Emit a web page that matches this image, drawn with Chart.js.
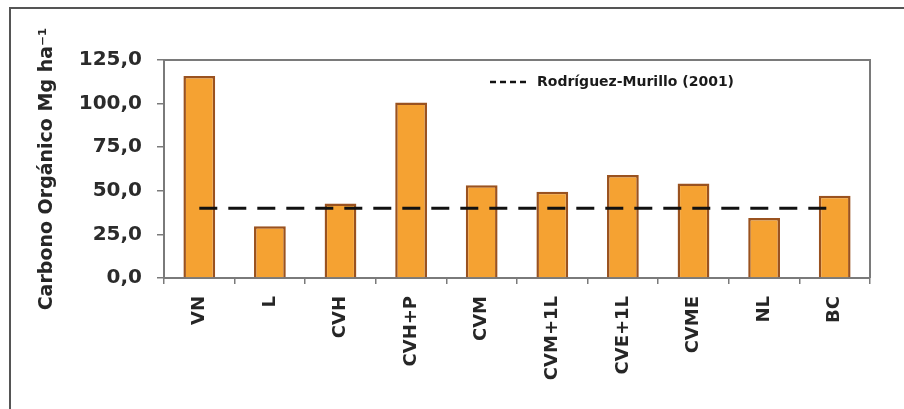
<!DOCTYPE html>
<html>
<head>
<meta charset="utf-8">
<script src="https://cdn.jsdelivr.net/npm/chart.js@4.4.1/dist/chart.umd.min.js"></script>
<style>
  html, body { margin: 0; padding: 0; background: #fff; }
  #wrap { position: relative; width: 904px; height: 409px; }
  #frame {
    position: absolute; left: 9px; top: 7px; right: -2px; bottom: -2px;
    border-left: 2px solid #555; border-top: 2px solid #555;
    pointer-events: none;
  }
</style>
</head>
<body>
<div id="wrap">
  <canvas id="carbonChart" width="904" height="409"></canvas>
  <div id="frame"></div>
</div>
<script>
let categories = ["VN", "L", "CVH", "CVH+P", "CVM", "CVM+1L", "CVE+1L", "CVME", "NL", "BC"];
let carbonValues = [115.8, 29.7, 42.7, 100.7, 53.2, 49.4, 59.0, 54.2, 34.4, 47.1];
let referenceValues = [40, 40, 40, 40, 40, 40, 40, 40, 40, 40];
let referenceLabel = "Rodríguez-Murillo (2001)";
let yTitle = "Carbono Orgánico Mg ha⁻¹";

const fontFamily = "'DejaVu Sans', Verdana, sans-serif";

// box round the plot area + the little legend inside it
const plotExtras = {
  id: 'plotExtras',
  afterDraw(chart) {
    const c = chart.ctx;
    const a = chart.chartArea;
    c.save();
    c.strokeStyle = '#7a7a7a';
    c.lineWidth = 2;
    c.beginPath();
    c.moveTo(a.left, a.top);
    c.lineTo(a.right, a.top);
    c.lineTo(a.right, a.bottom);
    c.stroke();

    // legend
    const ds = chart.data.datasets[1];
    const ly = a.top + 22;
    const lx = a.left + 326;
    c.strokeStyle = '#111';
    c.lineWidth = 2.5;
    c.setLineDash([6, 4]);
    c.beginPath();
    c.moveTo(lx, ly);
    c.lineTo(lx + 40, ly);
    c.stroke();
    c.setLineDash([]);
    c.fillStyle = '#1a1a1a';
    c.font = "bold 14px " + fontFamily;
    c.textBaseline = 'middle';
    c.textAlign = 'left';
    c.fillText(ds.label, lx + 47, ly);
    c.restore();
  }
};

const ctx = document.getElementById('carbonChart').getContext('2d');
let carbonChart = new Chart(ctx, {
  type: 'bar',
  data: {
    labels: categories,
    datasets: [{
      type: 'bar',
      label: 'Carbono',
      data: carbonValues,
      backgroundColor: '#F5A232',
      borderColor: '#9A521F',
      borderWidth: 2.5,
      barPercentage: 0.45,
      categoryPercentage: 1.0,
      order: 2
    }, {
      type: 'line',
      label: referenceLabel,
      data: referenceValues,
      borderColor: '#111',
      borderWidth: 3,
      borderDash: [18, 11],
      pointRadius: 0,
      fill: false,
      order: 1
    }]
  },
  options: {
    responsive: false,
    animation: false,
    layout: { padding: { left: 0, right: 34, top: 60, bottom: 0 } },
    plugins: {
      legend: { display: false },
      tooltip: { enabled: false }
    },
    scales: {
      x: {
        afterFit: function (scale) { scale.height = 131; },
        grid: { drawOnChartArea: false, drawTicks: true, tickLength: 6, color: '#7a7a7a', lineWidth: 1.5 },
        border: { color: '#7a7a7a', width: 2 },
        ticks: {
          maxRotation: 90, minRotation: 90,
          padding: 12,
          color: '#262626',
          font: { family: fontFamily, size: 18, weight: 'bold' }
        }
      },
      y: {
        min: 0, max: 125,
        afterFit: function (scale) { scale.width = 164; },
        grid: { drawOnChartArea: false, drawTicks: true, tickLength: 7, color: '#7a7a7a', lineWidth: 1.5 },
        border: { color: '#7a7a7a', width: 2 },
        ticks: {
          stepSize: 25,
          padding: 15,
          color: '#2b2b2b',
          font: { family: fontFamily, size: 20, weight: 'bold' },
          callback: function (v) { return v.toFixed(1).replace('.', ','); }
        },
        title: {
          display: true,
          text: yTitle,
          color: '#262626',
          padding: { top: 36, bottom: 0 },
          font: { family: fontFamily, size: 19, weight: 'bold' }
        }
      }
    }
  },
  plugins: [plotExtras]
});
</script>
</body>
</html>
